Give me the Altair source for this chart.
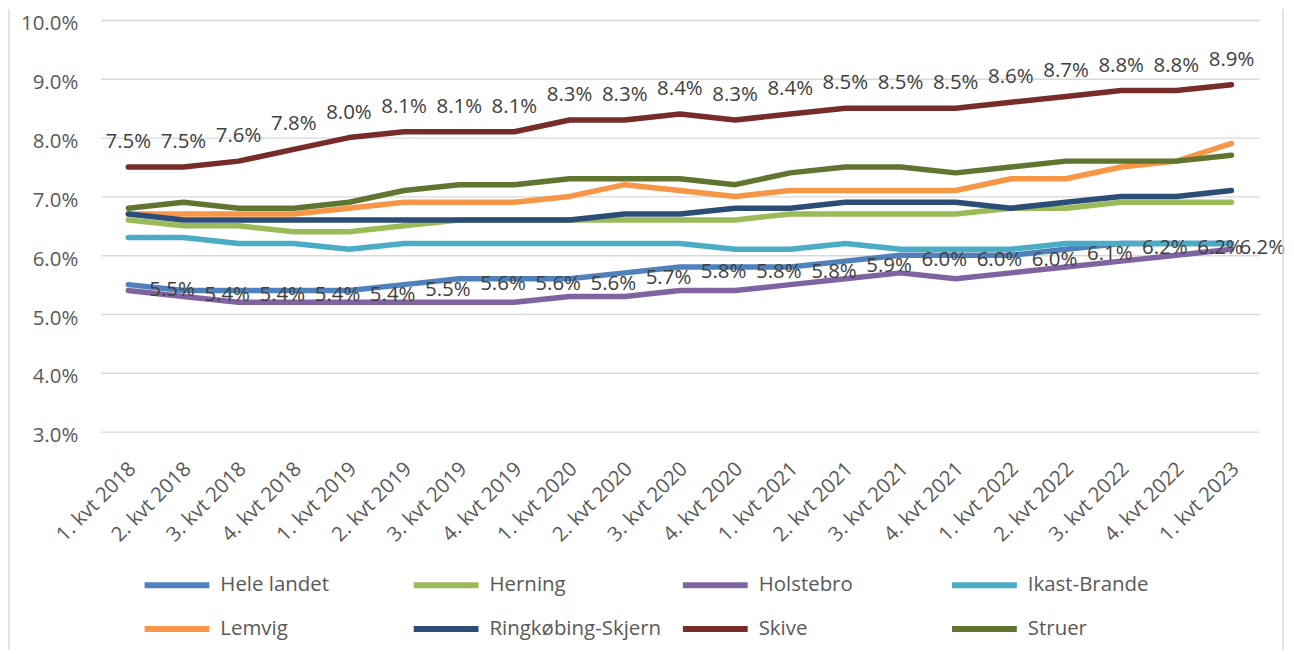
import altair as alt
import pandas as pd

quarters = [
    "1. kvt 2018", "2. kvt 2018", "3. kvt 2018", "4. kvt 2018",
    "1. kvt 2019", "2. kvt 2019", "3. kvt 2019", "4. kvt 2019",
    "1. kvt 2020", "2. kvt 2020", "3. kvt 2020", "4. kvt 2020",
    "1. kvt 2021", "2. kvt 2021", "3. kvt 2021", "4. kvt 2021",
    "1. kvt 2022", "2. kvt 2022", "3. kvt 2022", "4. kvt 2022",
    "1. kvt 2023",
]

series_names = ["Hele landet", "Herning", "Holstebro", "Ikast-Brande",
                "Lemvig", "Ringkøbing-Skjern", "Skive", "Struer"]
series_colors = ["#4F81BD", "#9BBB59", "#8064A2", "#4BACC6",
                 "#F79646", "#2C4D75", "#772C2A", "#5F7530"]

hele_landet = [5.5, 5.4, 5.4, 5.4, 5.4, 5.5, 5.6, 5.6, 5.6, 5.7, 5.8, 5.8, 5.8, 5.9, 6.0, 6.0, 6.0, 6.1, 6.2, 6.2, 6.2]
herning     = [6.6, 6.5, 6.5, 6.4, 6.4, 6.5, 6.6, 6.6, 6.6, 6.6, 6.6, 6.6, 6.7, 6.7, 6.7, 6.7, 6.8, 6.8, 6.9, 6.9, 6.9]
holstebro   = [5.4, 5.3, 5.2, 5.2, 5.2, 5.2, 5.2, 5.2, 5.3, 5.3, 5.4, 5.4, 5.5, 5.6, 5.7, 5.6, 5.7, 5.8, 5.9, 6.0, 6.1]
ikast       = [6.3, 6.3, 6.2, 6.2, 6.1, 6.2, 6.2, 6.2, 6.2, 6.2, 6.2, 6.1, 6.1, 6.2, 6.1, 6.1, 6.1, 6.2, 6.2, 6.2, 6.2]
lemvig      = [6.7, 6.7, 6.7, 6.7, 6.8, 6.9, 6.9, 6.9, 7.0, 7.2, 7.1, 7.0, 7.1, 7.1, 7.1, 7.1, 7.3, 7.3, 7.5, 7.6, 7.9]
ringkobing  = [6.7, 6.6, 6.6, 6.6, 6.6, 6.6, 6.6, 6.6, 6.6, 6.7, 6.7, 6.8, 6.8, 6.9, 6.9, 6.9, 6.8, 6.9, 7.0, 7.0, 7.1]
skive       = [7.5, 7.5, 7.6, 7.8, 8.0, 8.1, 8.1, 8.1, 8.3, 8.3, 8.4, 8.3, 8.4, 8.5, 8.5, 8.5, 8.6, 8.7, 8.8, 8.8, 8.9]
struer      = [6.8, 6.9, 6.8, 6.8, 6.9, 7.1, 7.2, 7.2, 7.3, 7.3, 7.3, 7.2, 7.4, 7.5, 7.5, 7.4, 7.5, 7.6, 7.6, 7.6, 7.7]

y_ticks = [3, 4, 5, 6, 7, 8, 9, 10]

all_values = [hele_landet, herning, holstebro, ikast, lemvig, ringkobing, skive, struer]
rows = []
for name, vals in zip(series_names, all_values):
    for i, (q, v) in enumerate(zip(quarters, vals)):
        rows.append({"kvartal": q, "serie": name, "value": v, "idx": i})
df = pd.DataFrame(rows)
last_idx = len(quarters) - 1

FONT = "Open Sans"
FS = 20.5

x_enc = alt.X("kvartal:N", sort=quarters, title=None,
              scale=alt.Scale(type="point", padding=0.5),
              axis=alt.Axis(labelAngle=315, labelAlign="right", labelBaseline="middle",
                            labelPadding=34, labelOffset=4, ticks=False, domain=False,
                            grid=False, labelOverlap=False, labelFont=FONT,
                            labelFontSize=FS, labelColor="#595959", labelBound=False,
                            labelFlush=False))
y_enc = alt.Y("value:Q", title=None,
              scale=alt.Scale(domain=[3, 10], nice=False, zero=False),
              axis=alt.Axis(values=y_ticks, labelExpr="format(datum.value, '.1f') + '%'",
                            grid=True, gridColor="#D9D9D9", gridWidth=1.4,
                            domain=False, ticks=False, labelPadding=23,
                            labelFont=FONT, labelFontSize=FS, labelColor="#595959",
                            labelOffset=4))

base = alt.Chart(df)

lines = base.mark_line(strokeWidth=5.5, strokeCap="round", strokeJoin="round").encode(
    x=x_enc,
    y=y_enc,
    color=alt.Color("serie:N", sort=series_names,
                    scale=alt.Scale(domain=series_names, range=series_colors),
                    legend=alt.Legend(title=None, orient="none", legendX=41, legendY=555,
                                      direction="horizontal", columns=4, gridAlign="all",
                                      clipHeight=24, symbolType="stroke", symbolSize=4225,
                                      symbolStrokeWidth=6, labelFont=FONT, labelFontSize=FS,
                                      labelColor="#595959", labelOffset=8, labelLimit=400,
                                      columnPadding=18, rowPadding=20, padding=0)),
)

text_style = dict(font=FONT, fontSize=FS, color="#404040")
label_expr = "format(datum.value, '.1f') + '%'"

skive_labels = base.transform_filter(alt.datum.serie == "Skive").transform_calculate(
    lbl=label_expr
).mark_text(align="center", baseline="alphabetic", dy=-19, **text_style).encode(
    x=alt.X("kvartal:N", sort=quarters),
    y=alt.Y("value:Q"),
    text="lbl:N",
)

hele_labels = base.transform_filter(
    (alt.datum.serie == "Hele landet") & (alt.datum.idx < last_idx)
).transform_calculate(lbl=label_expr).mark_text(
    align="left", baseline="alphabetic", dx=21, dy=11, **text_style
).encode(
    x=alt.X("kvartal:N", sort=quarters),
    y=alt.Y("value:Q"),
    text="lbl:N",
)

hele_last_label = base.transform_filter(
    (alt.datum.serie == "Hele landet") & (alt.datum.idx == last_idx)
).transform_calculate(lbl=label_expr).mark_text(
    align="left", baseline="alphabetic", dx=8, dy=11, **text_style
).encode(
    x=alt.X("kvartal:N", sort=quarters),
    y=alt.Y("value:Q"),
    text="lbl:N",
)

frame_df = pd.DataFrame({"k": [0]})
border_left = alt.Chart(frame_df).mark_rule(color="#D9D9D9", strokeWidth=1.5).encode(
    x=alt.value(-92), y=alt.value(-11), y2=alt.value(640))
border_right = alt.Chart(frame_df).mark_rule(color="#D9D9D9", strokeWidth=1.5).encode(
    x=alt.value(1186), y=alt.value(-11), y2=alt.value(640))

chart = alt.layer(lines, skive_labels, hele_labels, hele_last_label,
                  border_left, border_right).properties(
    width=1162, height=413,
    padding={"left": 93, "top": 11, "right": 27, "bottom": 218},
    autosize=alt.AutoSizeParams(type="none"),
    background="white",
).configure_view(stroke=None)

chart.save("out.html", embed_options={"renderer": "svg", "actions": False})
